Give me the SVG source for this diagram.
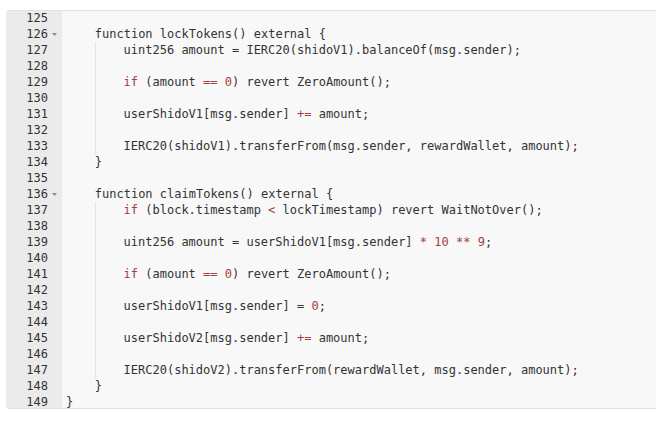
<svg xmlns="http://www.w3.org/2000/svg" width="656" height="425" viewBox="0 0 656 425">
  <style>
    .code { font-family: "DejaVu Sans Mono", "Liberation Mono", monospace; font-size: 12px; fill: #333333; white-space: pre; }
    .ln { font-family: "DejaVu Sans Mono", "Liberation Mono", monospace; font-size: 12px; fill: #333333; text-anchor: end; }
    .k { fill: #a0413c; }
    .guide { stroke: #e3e3e3; stroke-width: 1; }
    .fold { fill: #8a8a8a; }
  </style>
  <defs>
    <clipPath id="panelClip">
      <rect x="6" y="10" width="660" height="399" rx="4" ry="4"/>
    </clipPath>
  </defs>
  <rect width="656" height="425" fill="#ffffff"/>
  <g id="panel" clip-path="url(#panelClip)">
    <rect x="6" y="10" width="660" height="399" fill="#f8f8f8"/>
    <rect x="6" y="10" width="56" height="399" fill="#ebebeb"/>
    <line x1="6" y1="10.5" x2="656" y2="10.5" stroke="#e2e2e2"/>
    <line x1="6" y1="408.5" x2="656" y2="408.5" stroke="#e2e2e2"/>
  </g>
  <g id="guides">
    <line class="guide" x1="95.5" y1="42" x2="95.5" y2="154"/>
    <line class="guide" x1="95.5" y1="202" x2="95.5" y2="378"/>
  </g>
  <g id="gutter">
    <text class="ln" x="48" y="22">125</text>
    <text class="ln" x="48" y="38">126</text>
    <text class="ln" x="48" y="54">127</text>
    <text class="ln" x="48" y="70">128</text>
    <text class="ln" x="48" y="86">129</text>
    <text class="ln" x="48" y="102">130</text>
    <text class="ln" x="48" y="118">131</text>
    <text class="ln" x="48" y="134">132</text>
    <text class="ln" x="48" y="150">133</text>
    <text class="ln" x="48" y="166">134</text>
    <text class="ln" x="48" y="182">135</text>
    <text class="ln" x="48" y="198">136</text>
    <text class="ln" x="48" y="214">137</text>
    <text class="ln" x="48" y="230">138</text>
    <text class="ln" x="48" y="246">139</text>
    <text class="ln" x="48" y="262">140</text>
    <text class="ln" x="48" y="278">141</text>
    <text class="ln" x="48" y="294">142</text>
    <text class="ln" x="48" y="310">143</text>
    <text class="ln" x="48" y="326">144</text>
    <text class="ln" x="48" y="342">145</text>
    <text class="ln" x="48" y="358">146</text>
    <text class="ln" x="48" y="374">147</text>
    <text class="ln" x="48" y="390">148</text>
    <text class="ln" x="48" y="406">149</text>
    <polygon class="fold" points="52,33 57,33 54.5,36"/>
    <polygon class="fold" points="52,193 57,193 54.5,196"/>
  </g>
  <g id="code" xml:space="preserve">
    <text class="code" x="94.8" y="38">function lockTokens() external {</text>
    <text class="code" x="123.6" y="54">uint256 amount = IERC20(shidoV1).balanceOf(msg.sender);</text>
    <text class="code" x="123.6" y="86"><tspan class="k">if</tspan> (amount <tspan class="k">==</tspan> <tspan class="k">0</tspan>) revert ZeroAmount();</text>
    <text class="code" x="123.6" y="118">userShidoV1[msg.sender] <tspan class="k">+=</tspan> amount;</text>
    <text class="code" x="123.6" y="150">IERC20(shidoV1).transferFrom(msg.sender, rewardWallet, amount);</text>
    <text class="code" x="94.8" y="166">}</text>
    <text class="code" x="94.8" y="198">function claimTokens() external {</text>
    <text class="code" x="123.6" y="214"><tspan class="k">if</tspan> (block.timestamp <tspan class="k">&lt;</tspan> lockTimestamp) revert WaitNotOver();</text>
    <text class="code" x="123.6" y="246">uint256 amount = userShidoV1[msg.sender] <tspan class="k">*</tspan> <tspan class="k">10</tspan> <tspan class="k">**</tspan> <tspan class="k">9</tspan>;</text>
    <text class="code" x="123.6" y="278"><tspan class="k">if</tspan> (amount <tspan class="k">==</tspan> <tspan class="k">0</tspan>) revert ZeroAmount();</text>
    <text class="code" x="123.6" y="310">userShidoV1[msg.sender] = <tspan class="k">0</tspan>;</text>
    <text class="code" x="123.6" y="342">userShidoV2[msg.sender] <tspan class="k">+=</tspan> amount;</text>
    <text class="code" x="123.6" y="374">IERC20(shidoV2).transferFrom(rewardWallet, msg.sender, amount);</text>
    <text class="code" x="94.8" y="390">}</text>
    <text class="code" x="66" y="406">}</text>
  </g>
</svg>
